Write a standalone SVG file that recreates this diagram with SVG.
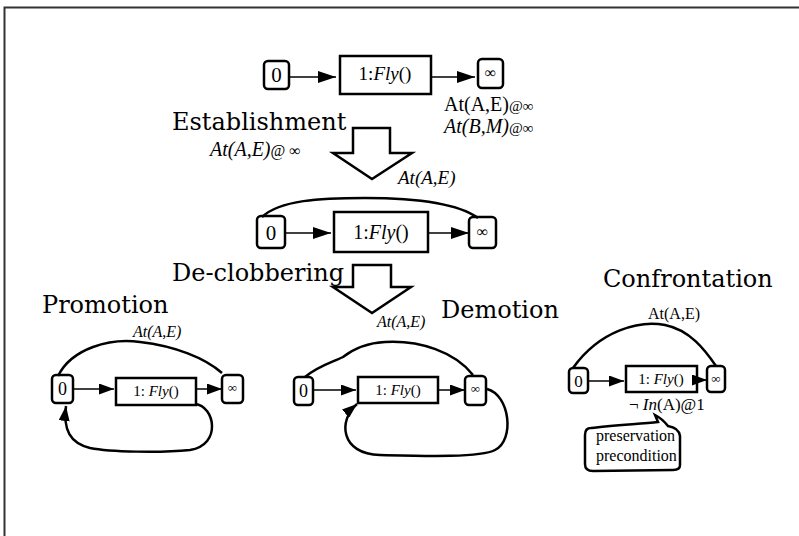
<svg xmlns="http://www.w3.org/2000/svg" width="799" height="536" viewBox="0 0 799 536">
<defs>
<marker id="ah" markerUnits="userSpaceOnUse" markerWidth="18" markerHeight="12" refX="18" refY="6" orient="auto"><path d="M0,0 L18,6 L0,12 z" fill="#000"/></marker>
<marker id="ahs" markerUnits="userSpaceOnUse" markerWidth="15" markerHeight="11" refX="15" refY="5.5" orient="auto"><path d="M0,0 L15,5.5 L0,11 z" fill="#000"/></marker>
<style>
.st{fill:#fff;stroke:#000;stroke-width:2.5}
.hd{font-family:"DejaVu Serif",serif;font-size:24px;fill:#000}
.tx{font-family:"Liberation Serif",serif;fill:#000}
.it{font-style:italic}
.ln{fill:none;stroke:#000;stroke-width:1.5}
.arc{fill:none;stroke:#000;stroke-width:2.5}
.big{fill:#fff;stroke:#000;stroke-width:2.5}
</style>
</defs>
<rect width="799" height="536" fill="#fff"/>
<path d="M4.5,536 L4.5,7.5 L799,7.5" fill="none" stroke="#333" stroke-width="2"/>

<g id="top-start"><rect class="st" x="264" y="61" width="25" height="28" rx="4"/><text class="tx" x="276.5" y="82" font-size="21" text-anchor="middle">0</text></g>
<g id="top-fly"><rect class="st" x="340" y="56" width="91" height="38"/><text class="tx" x="385" y="80" font-size="19" text-anchor="middle">1:<tspan class="it">Fly</tspan>()</text></g>
<g id="top-end"><rect class="st" x="478" y="59" width="25" height="29" rx="4"/><text class="tx" x="490.5" y="78" font-size="16" text-anchor="middle">∞</text></g>
<g id="top-goals">
<text class="tx" x="444" y="111" font-size="20">At(A,E)<tspan font-size="15">@∞</tspan></text>
<text class="tx it" x="444" y="133" font-size="20">At(B,M)<tspan font-size="15" font-style="normal">@∞</tspan></text>
</g>

<g id="establishment">
<text class="hd" x="172" y="130">Establishment</text>
<text class="tx" x="210" y="156" font-size="20"><tspan class="it">At(A,E)</tspan><tspan font-size="16">@ ∞</tspan></text>
<polygon class="big" points="353,128 390,128 390,153 412,153 372,179 333,153 353,153"/>
<text class="tx it" x="398" y="184" font-size="19">At(A,E)</text>
</g>

<g id="mid-start"><rect class="st" x="257" y="216" width="28" height="32" rx="4"/><text class="tx" x="271" y="240" font-size="21" text-anchor="middle">0</text></g>
<g id="mid-fly"><rect class="st" x="334" y="212" width="94" height="40"/><text class="tx" x="381" y="239" font-size="20" text-anchor="middle">1:<tspan class="it">Fly</tspan>()</text></g>
<g id="mid-end"><rect class="st" x="469" y="217" width="27" height="31" rx="4"/><text class="tx" x="482.5" y="237" font-size="16" text-anchor="middle">∞</text></g>

<g id="declobbering">
<text class="hd" x="172" y="281">De-clobbering</text>
<polygon class="big" points="353,265 391,265 391,287 411,287 372,313 333,287 353,287"/>
</g>

<g id="promotion">
<text class="hd" x="42" y="313">Promotion</text>
<text class="tx it" x="133" y="337" font-size="16">At(A,E)</text>
</g>
<g id="pro-start"><rect class="st" x="52" y="375" width="21" height="28" rx="4"/><text class="tx" x="62.5" y="395" font-size="18" text-anchor="middle">0</text></g>
<g id="pro-fly"><rect class="st" x="116" y="378" width="80" height="27"/><text class="tx" x="156" y="396" font-size="15" text-anchor="middle">1: <tspan class="it">Fly</tspan>()</text></g>
<g id="pro-end"><rect class="st" x="222" y="375" width="21" height="28" rx="4"/><text class="tx" x="232.5" y="392" font-size="13" text-anchor="middle">∞</text></g>

<g id="demotion">
<text class="hd" x="441" y="318">Demotion</text>
<text class="tx it" x="377" y="327" font-size="16">At(A,E)</text>
</g>
<g id="dem-start"><rect class="st" x="294" y="377" width="19" height="28" rx="4"/><text class="tx" x="303.5" y="397" font-size="18" text-anchor="middle">0</text></g>
<g id="dem-fly"><rect class="st" x="358" y="377" width="80" height="26"/><text class="tx" x="398" y="395" font-size="15" text-anchor="middle">1: <tspan class="it">Fly</tspan>()</text></g>
<g id="dem-end"><rect class="st" x="465" y="376" width="21" height="29" rx="4"/><text class="tx" x="475.5" y="393" font-size="13" text-anchor="middle">∞</text></g>

<g id="confrontation">
<text class="hd" x="603" y="287">Confrontation</text>
<text class="tx" x="674" y="319" font-size="16" text-anchor="middle">At(A,E)</text>
<text class="tx" x="629" y="410" font-size="17">¬ <tspan class="it">In</tspan>(A)@1</text>
</g>
<g id="con-start"><rect class="st" x="569" y="368" width="19" height="25" rx="4"/><text class="tx" x="578.5" y="387" font-size="17" text-anchor="middle">0</text></g>
<g id="con-fly"><rect class="st" x="626" y="366" width="71" height="26"/><text class="tx" x="661" y="384" font-size="15" text-anchor="middle">1: <tspan class="it">Fly</tspan>()</text></g>
<g id="con-end"><rect class="st" x="707" y="366" width="18" height="26" rx="4"/><text class="tx" x="716" y="383" font-size="13" text-anchor="middle">∞</text></g>

<g id="callout">
<path class="arc" d="M591,428 C612,425 640,424 658,422 L655,415 C659,417 664,421 668,426 C674,427 679,429 680,436 L680,465 C680,469 677,470 673,470 L593,471 C587,471 585,468 585,464 L585,435 C585,430 587,428 591,428 Z"/>
<text class="tx" x="596" y="441" font-size="16">preservation</text>
<text class="tx" x="596" y="461" font-size="16">precondition</text>
</g>

<g id="connectors">
<line class="ln" x1="289" y1="77" x2="336" y2="77" marker-end="url(#ah)"/>
<line class="ln" x1="431" y1="77" x2="475" y2="77" marker-end="url(#ah)"/>
<line class="ln" x1="285" y1="233" x2="331" y2="233" marker-end="url(#ah)"/>
<line class="ln" x1="428" y1="233" x2="469" y2="233" marker-end="url(#ah)"/>
<path class="arc" d="M262,217 C280,200 320,198 365,198 C420,198 460,205 478,218"/>

<line class="ln" x1="73" y1="389" x2="114" y2="389" marker-end="url(#ahs)"/>
<line class="ln" x1="196" y1="389" x2="222" y2="389" marker-end="url(#ahs)"/>
<path class="arc" d="M58,376 C72,348 110,338 140,342 C175,346 205,358 222,373"/>
<path class="arc" d="M195,404 C215,406 222,445 190,450 C160,453 110,452 90,448 C70,443 63,430 66,406" marker-end="url(#ahs)"/>

<line class="ln" x1="313" y1="390" x2="356" y2="390" marker-end="url(#ahs)"/>
<line class="ln" x1="438" y1="390" x2="465" y2="390" marker-end="url(#ahs)"/>
<path class="arc" d="M305,377 C318,366 333,362 343,357 C352,350 365,343 385,342 C420,340 455,352 473,375"/>
<path class="arc" d="M487,389 C510,395 515,440 495,450 C480,458 420,456 380,455 C340,454 338,420 357,404" marker-end="url(#ahs)"/>

<line class="ln" x1="588" y1="381" x2="624" y2="381" marker-end="url(#ahs)"/>
<line class="ln" x1="697" y1="380" x2="707" y2="380" marker-end="url(#ahs)"/>
<path class="arc" d="M573,368 C600,330 640,320 665,325 C690,330 705,350 716,366"/>
</g>
</svg>
